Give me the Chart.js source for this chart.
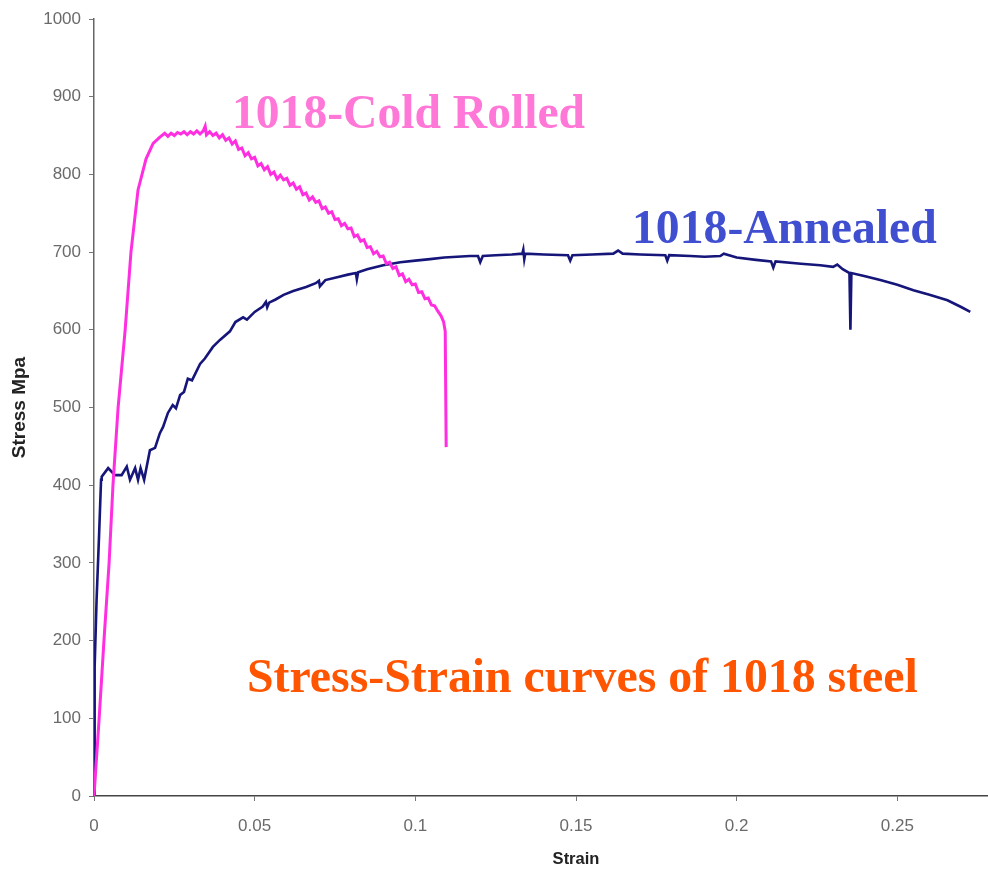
<!DOCTYPE html>
<html>
<head>
<meta charset="utf-8">
<script src="https://cdn.jsdelivr.net/npm/chart.js@4.4.1/dist/chart.umd.min.js"></script>
<style>
  html, body { margin: 0; padding: 0; background: #ffffff; overflow: hidden; }
  #frame { position: relative; width: 988px; height: 870px; overflow: hidden; background: #fff; }
  #wrap { position: absolute; left: 0; top: 0; width: 1058px; height: 870px; }
  .lbl { position: absolute; font-family: "Liberation Serif", "Times New Roman", serif; font-weight: bold; white-space: nowrap; line-height: 1; }
</style>
</head>
<body>
<div id="frame">
  <div id="wrap"><canvas id="c"></canvas></div>
  <div class="lbl" id="lblCold" style="left:232px; top:89px; font-size:47.6px; color:#FF78D7;">1018-Cold Rolled</div>
  <div class="lbl" id="lblAnn" style="left:632px; top:203px; font-size:47.7px; color:#3F4FD0;">1018-Annealed</div>
  <div class="lbl" id="lblTitle" style="left:247px; top:652px; font-size:47.8px; color:#FF5500;">Stress-Strain curves of 1018 steel</div>
</div>
<script>
// ---- Data ----
const coldStrain = [0, 0.0016, 0.0031, 0.0047, 0.0059, 0.0075, 0.0097, 0.0115, 0.0137, 0.0162, 0.0184, 0.0205,
  0.022, 0.023, 0.024, 0.025, 0.026, 0.027, 0.028, 0.029, 0.030, 0.031, 0.032, 0.033, 0.034, 0.0346,
  0.035, 0.036, 0.037, 0.038, 0.039, 0.040, 0.041, 0.042, 0.043, 0.044, 0.045, 0.046, 0.047, 0.048, 0.049,
  0.050, 0.051, 0.052, 0.053, 0.054, 0.055, 0.056, 0.057, 0.058, 0.059, 0.060, 0.061, 0.062, 0.063, 0.064,
  0.065, 0.066, 0.067, 0.068, 0.069, 0.070, 0.071, 0.072, 0.073, 0.074, 0.075, 0.076, 0.077, 0.078, 0.079,
  0.080, 0.081, 0.082, 0.083, 0.084, 0.085, 0.086, 0.087, 0.088, 0.089, 0.090, 0.091, 0.092, 0.093, 0.094,
  0.095, 0.096, 0.097, 0.098, 0.099, 0.100, 0.101, 0.102, 0.103, 0.104, 0.105, 0.106, 0.107,
  0.1080, 0.1088, 0.1093, 0.1096];
const coldStress = [0, 100, 200, 300, 400, 500, 600, 700, 780, 820, 840, 848,
  853, 849, 853, 850, 854, 852, 855, 851, 855, 852, 856, 852, 856, 862,
  851, 855, 850, 853, 847, 851, 844, 847, 839, 843, 832, 834, 824, 828, 820,
  822, 811, 814, 806, 810, 800, 803, 794, 799, 793, 795, 786, 789, 781, 784,
  774, 776, 767, 771, 764, 766, 756, 758, 750, 752, 742, 743, 734, 737, 730,
  731, 720, 722, 714, 716, 706, 707, 698, 701, 694, 695, 685, 687, 679, 681,
  670, 672, 662, 665, 658, 659, 648, 649, 640, 641, 632, 631, 624,
  618, 610, 598, 449];

const annStrain = [0, 0.0001, 0.0003, 0.0008, 0.0016, 0.0022, 0.0024, 0.0044, 0.0065, 0.0086, 0.0102, 0.0112,
  0.0128, 0.0137, 0.0145, 0.0156, 0.0174, 0.0190, 0.0205, 0.0215, 0.0230, 0.0245, 0.0255, 0.0268, 0.0280, 0.0292,
  0.0305, 0.0330, 0.0345, 0.0370, 0.0392, 0.0423, 0.0440, 0.0464, 0.0476, 0.0500, 0.0525, 0.0535, 0.0539, 0.0545,
  0.0565, 0.0590, 0.0620, 0.0660, 0.0690, 0.0700, 0.0703, 0.0720, 0.0760, 0.0790, 0.0815, 0.0818, 0.0822, 0.0850,
  0.0900, 0.0953, 0.1000, 0.1046, 0.1090, 0.1130, 0.1170, 0.1195, 0.1202, 0.1210, 0.1250, 0.1300, 0.1333, 0.1336,
  0.1339, 0.1342, 0.1400, 0.1475, 0.1482, 0.1489, 0.1550, 0.1616, 0.1631, 0.1645, 0.1700, 0.1778, 0.1784, 0.1790,
  0.1856, 0.1900, 0.1949, 0.1960, 0.2000, 0.2060, 0.2107, 0.2114, 0.2121, 0.2200, 0.2260, 0.2300, 0.2313, 0.2330,
  0.2351, 0.2354, 0.2357, 0.2400, 0.2447, 0.2500, 0.2550, 0.2600, 0.2656, 0.2700, 0.2727];
const annStress = [0, 60, 166, 252, 338, 407, 411, 422, 413, 413, 424, 407,
  422, 407, 422, 407, 445, 448, 467, 475, 493, 503, 499, 516, 520, 537,
  535, 556, 563, 578, 587, 598, 610, 616, 613, 623, 630, 636, 629, 635,
  639, 645, 650, 655, 660, 663, 656, 664, 668, 671, 673, 665, 674, 678,
  683, 687, 689, 691, 693, 694, 695, 695, 687, 695, 696, 697, 698, 703,
  691, 698, 697, 696, 689, 696, 697, 698, 702, 698, 697, 696, 689, 696,
  695, 694, 695, 698, 693, 690, 688, 680, 688, 685, 683, 681, 684, 678,
  673, 600, 673, 669, 664, 658, 651, 645, 638, 629, 623];

const yTicks = [0, 100, 200, 300, 400, 500, 600, 700, 800, 900, 1000];
const yLabels = ['0', '100', '200', '300', '400', '500', '600', '700', '800', '900', '1000'];
const xTicks = [0, 0.05, 0.1, 0.15, 0.2, 0.25];
const xLabels = ['0', '0.05', '0.1', '0.15', '0.2', '0.25'];

const toXY = (xs, ys) => xs.map((x, i) => ({ x: x, y: ys[i] }));

new Chart(document.getElementById('c'), {
  type: 'scatter',
  data: {
    datasets: [
      { label: '1018-Cold Rolled', data: toXY(coldStrain, coldStress), showLine: true,
        borderColor: '#FF2EE0', borderWidth: 3, pointRadius: 0, tension: 0 },
      { label: '1018-Annealed', data: toXY(annStrain, annStress), showLine: true,
        borderColor: '#15157A', borderWidth: 2.6, pointRadius: 0, tension: 0 }
    ]
  },
  options: {
    responsive: true,
    maintainAspectRatio: false,
    animation: false,
    layout: { padding: { top: 19, right: 0, bottom: 0, left: 0 } },
    plugins: { legend: { display: false }, tooltip: { enabled: false } },
    scales: {
      x: {
        type: 'linear', min: 0, max: 0.3,
        afterBuildTicks: (s) => { s.ticks = xTicks.map(v => ({ value: v })); },
        afterFit: (s) => { s.height = 74; },
        grid: { drawOnChartArea: false, drawTicks: true, tickLength: 5, color: '#777', lineWidth: 1 },
        border: { display: true, color: '#444', width: 1.5 },
        ticks: { padding: 15, maxRotation: 0, autoSkip: false, color: '#6a6a6a',
          font: { family: 'Liberation Sans, Arial, sans-serif', size: 17 },
          callback: (v, i) => xLabels[i] },
        title: { display: true, text: 'Strain', color: '#222', padding: { top: 0, bottom: 1 },
          font: { family: 'Liberation Sans, Arial, sans-serif', size: 16.5, weight: 'bold' } }
      },
      y: {
        type: 'linear', min: 0, max: 1000,
        afterBuildTicks: (s) => { s.ticks = yTicks.map(v => ({ value: v })); },
        afterFit: (s) => { s.width = 94; },
        grid: { drawOnChartArea: false, drawTicks: true, tickLength: 5, color: '#777', lineWidth: 1 },
        border: { display: true, color: '#666', width: 1.5 },
        ticks: { padding: 8, color: '#6a6a6a',
          font: { family: 'Liberation Sans, Arial, sans-serif', size: 17 },
          callback: (v, i) => yLabels[i] },
        title: { display: true, text: 'Stress Mpa', color: '#222', padding: { top: 8, bottom: 0 },
          font: { family: 'Liberation Sans, Arial, sans-serif', size: 19, weight: 'bold' } }
      }
    }
  }
});
</script>
</body>
</html>
